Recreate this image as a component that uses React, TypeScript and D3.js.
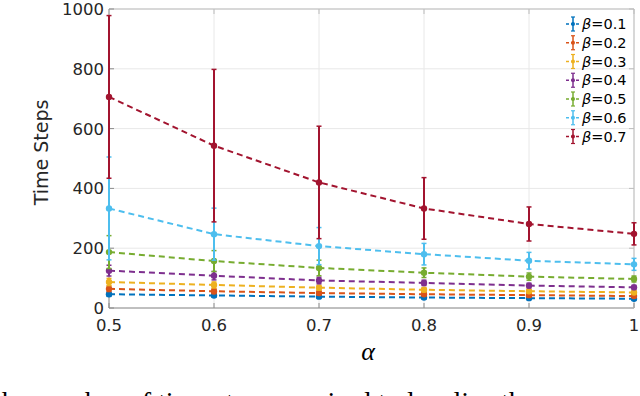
import React from "react";
import * as d3 from "d3";

const alphas = [0.5, 0.6, 0.7, 0.8, 0.9, 1.0];
const betaLabels = ["0.1", "0.2", "0.3", "0.4", "0.5", "0.6", "0.7"];
const colors = ["#0072BD", "#D95319", "#EDB120", "#7E2F8E", "#77AC30", "#4DBEEE", "#A2142F"];

const mean01 = [46, 42, 38, 35, 33, 31];
const mean02 = [64, 56, 50, 46, 43, 40];
const mean03 = [87, 77, 68, 61, 56, 52];
const mean04 = [125, 108, 92, 84, 75, 69];
const mean05 = [187, 157, 134, 118, 105, 97];
const mean06 = [333, 247, 207, 180, 158, 146];
const mean07 = [706, 543, 420, 333, 281, 248];

const err01 = [7, 6, 5, 5, 4, 4];
const err02 = [9, 8, 7, 6, 5, 5];
const err03 = [12, 10, 8, 7, 6, 5];
const err04 = [18, 14, 11, 9, 8, 7];
const err05 = [55, 35, 26, 16, 12, 10];
const err06 = [172, 87, 62, 36, 28, 20];
const err07 = [272, 255, 188, 103, 57, 37];

const xTicks = [0.5, 0.6, 0.7, 0.8, 0.9, 1.0];
const xTickLabels = ["0.5", "0.6", "0.7", "0.8", "0.9", "1"];
const yTicks = [0, 200, 400, 600, 800, 1000];

const caption = "the number of time steps required to localize the";

const means = [mean01, mean02, mean03, mean04, mean05, mean06, mean07];
const errs = [err01, err02, err03, err04, err05, err06, err07];

export default function App() {
  const W = 640, H = 396;
  const left = 109, right = 634, top = 9, bottom = 308;
  const x = d3.scaleLinear().domain([0.5, 1.0]).range([left, right]);
  const y = d3.scaleLinear().domain([0, 1000]).range([bottom, top]);
  const line = d3.line<number>().x((_, i) => x(alphas[i])).y((v) => y(v));
  const axisColor = "#8c8c8c";
  const gridColor = "#e8e8e8";
  const textColor = "#262626";
  const font = "DejaVu Sans, sans-serif";
  const cap = 2.5;

  return (
    <svg width={W} height={H} style={{ position: "absolute", left: 0, top: 0, background: "#fff" }}>
      {xTicks.map((t, i) => (
        <line key={"gx" + i} x1={x(t)} x2={x(t)} y1={top} y2={bottom} stroke={gridColor} strokeWidth={1} />
      ))}
      {yTicks.map((t, i) => (
        <line key={"gy" + i} x1={left} x2={right} y1={y(t)} y2={y(t)} stroke={gridColor} strokeWidth={1} />
      ))}
      <line x1={left} x2={right} y1={top} y2={top} stroke="#bdbdbd" strokeWidth={1} />
      <line x1={right} x2={right} y1={top} y2={bottom} stroke="#bdbdbd" strokeWidth={1} />
      <line x1={left} x2={right} y1={bottom} y2={bottom} stroke={axisColor} strokeWidth={1} />
      <line x1={left} x2={left} y1={top} y2={bottom} stroke={axisColor} strokeWidth={1} />
      {xTicks.map((t, i) => (
        <g key={"tx" + i}>
          <line x1={x(t)} x2={x(t)} y1={bottom} y2={bottom - 5} stroke={axisColor} />
          <line x1={x(t)} x2={x(t)} y1={top} y2={top + 5} stroke="#bdbdbd" />
          <text x={x(t)} y={331} textAnchor="middle" fontFamily={font} fontSize={16.5} fill={textColor}>
            {xTickLabels[i]}
          </text>
        </g>
      ))}
      {yTicks.map((t, i) => (
        <g key={"ty" + i}>
          <line x1={left} x2={left + 5} y1={y(t)} y2={y(t)} stroke={axisColor} />
          <line x1={right} x2={right - 5} y1={y(t)} y2={y(t)} stroke="#bdbdbd" />
          <text x={104} y={y(t) + 6} textAnchor="end" fontFamily={font} fontSize={16.5} fill={textColor}>
            {t}
          </text>
        </g>
      ))}
      {means.map((m, s) => (
        <g key={"s" + s}>
          <path d={line(m) || ""} fill="none" stroke={colors[s]} strokeWidth={2} strokeDasharray="6,4" />
          {m.map((v, i) => {
            const cx = x(alphas[i]);
            const e = errs[s][i];
            return (
              <g key={i}>
                <line x1={cx} x2={cx} y1={y(v + e)} y2={y(Math.max(0, v - e))} stroke={colors[s]} strokeWidth={2} />
                <line x1={cx - cap} x2={cx + cap} y1={y(v + e)} y2={y(v + e)} stroke={colors[s]} strokeWidth={1.5} />
                <line x1={cx - cap} x2={cx + cap} y1={y(Math.max(0, v - e))} y2={y(Math.max(0, v - e))} stroke={colors[s]} strokeWidth={1.5} />
                <circle cx={cx} cy={y(v)} r={3.2} fill={colors[s]} />
              </g>
            );
          })}
        </g>
      ))}
      {betaLabels.map((b, i) => {
        const ly = 24 + i * 18.75;
        return (
          <g key={"lg" + i}>
            <line x1={566} x2={581} y1={ly} y2={ly} stroke={colors[i]} strokeWidth={1.5} strokeDasharray="3,2" />
            <line x1={573} x2={573} y1={ly - 7} y2={ly + 7} stroke={colors[i]} strokeWidth={1.5} />
            <line x1={571} x2={575} y1={ly - 7} y2={ly - 7} stroke={colors[i]} strokeWidth={1.2} />
            <line x1={571} x2={575} y1={ly + 7} y2={ly + 7} stroke={colors[i]} strokeWidth={1.2} />
            <circle cx={573} cy={ly} r={2} fill={colors[i]} />
            <text x={582} y={ly + 5} fontFamily={font} fontSize={14.5} fill="#000">
              <tspan fontStyle="italic">β</tspan>=
              {b}
            </text>
          </g>
        );
      })}
      <text
        transform={`translate(48, ${(top + bottom) / 2 - 6}) rotate(-90)`}
        textAnchor="middle"
        fontFamily={font}
        fontSize={19}
        fill={textColor}
      >
        Time Steps
      </text>
      <text x={368} y={360} textAnchor="middle" fontFamily="Liberation Serif, serif" fontStyle="italic" fontSize={26} fill="#000">
        α
      </text>
      <text x={-6} y={411} fontFamily="Liberation Serif, serif" fontSize={28} fill="#000">
        {caption}
      </text>
    </svg>
  );
}
